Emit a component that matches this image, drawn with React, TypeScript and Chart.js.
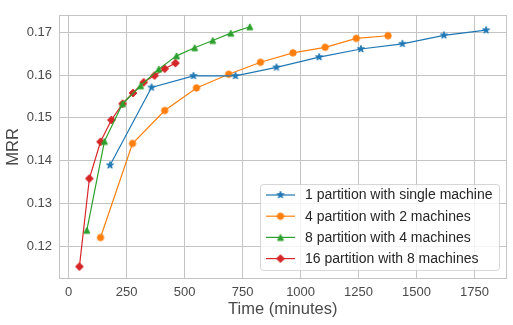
import React, { useEffect, useRef } from 'react';
import { Chart, registerables } from 'chart.js';

Chart.register(...registerables);

const FONT = "'Liberation Sans', Arial, Helvetica, sans-serif";

const seriesLabels = [
  '1 partition with single machine',
  '4 partition with 2 machines',
  '8 partition with 4 machines',
  '16 partition with 8 machines',
];
const seriesColors = ['#1f77b4', '#ff7f0e', '#2ca02c', '#d62728'];
const seriesMarkers = ['star', 'circle', 'triangle', 'diamond'];

const blueX = [178, 357, 538, 719, 896, 1080, 1260, 1439, 1618, 1800];
const blueY = [0.1389, 0.1571, 0.1598, 0.1598, 0.1618, 0.1642, 0.1661, 0.1673, 0.1693, 0.1705];

const orangeX = [137, 275, 414, 551, 690, 827, 967, 1106, 1240, 1377];
const orangeY = [0.122, 0.144, 0.1517, 0.157, 0.1602, 0.163, 0.1652, 0.1665, 0.1686, 0.1692];

const greenX = [78, 154, 232, 310, 388, 465, 543, 621, 699, 781];
const greenY = [0.1237, 0.1445, 0.1533, 0.1575, 0.1614, 0.1645, 0.1664, 0.1681, 0.1698, 0.1713];

const redX = [46, 89, 137, 184, 232, 277, 323, 370, 414, 460];
const redY = [0.1152, 0.1358, 0.1444, 0.1495, 0.1533, 0.1558, 0.1583, 0.1599, 0.1615, 0.1628];

const xTicks = [0, 250, 500, 750, 1000, 1250, 1500, 1750];
const yTicks = [0.12, 0.13, 0.14, 0.15, 0.16, 0.17];

const TEXT = '#4a4a4a';
const GRID = '#c4c4c4';

function makeMarker(kind: string, color: string): HTMLCanvasElement {
  const c = document.createElement('canvas');
  c.width = 12;
  c.height = 12;
  const ctx = c.getContext('2d')!;
  const cx = 6;
  const cy = 6;
  ctx.fillStyle = color;
  ctx.strokeStyle = color;
  ctx.lineWidth = 1;
  ctx.beginPath();
  if (kind === 'circle') {
    ctx.arc(cx, cy, 3.2, 0, Math.PI * 2);
  } else if (kind === 'triangle') {
    ctx.moveTo(cx, cy - 3);
    ctx.lineTo(cx + 3, cy + 3);
    ctx.lineTo(cx - 3, cy + 3);
  } else if (kind === 'diamond') {
    const r = 3.9;
    ctx.moveTo(cx, cy - r);
    ctx.lineTo(cx + r, cy);
    ctx.lineTo(cx, cy + r);
    ctx.lineTo(cx - r, cy);
  } else {
    const R = 3.7;
    const r = R * 0.381966;
    for (let i = 0; i < 10; i++) {
      const rad = i % 2 === 0 ? R : r;
      const a = -Math.PI / 2 + (i * Math.PI) / 5;
      const px = cx + rad * Math.cos(a);
      const py = cy + rad * Math.sin(a);
      if (i === 0) ctx.moveTo(px, py);
      else ctx.lineTo(px, py);
    }
  }
  ctx.closePath();
  ctx.fill();
  ctx.stroke();
  return c;
}

export default function App() {
  const ref = useRef<HTMLCanvasElement | null>(null);

  useEffect(() => {
    document.body.style.margin = '0';
    const canvas = ref.current;
    if (!canvas) return;

    const markers = seriesColors.map((col, i) => makeMarker(seriesMarkers[i], col));
    const xs = [blueX, orangeX, greenX, redX];
    const ys = [blueY, orangeY, greenY, redY];

    const datasets = seriesLabels.map((label, i) => ({
      label,
      data: xs[i].map((x, j) => ({ x, y: ys[i][j] })),
      borderColor: seriesColors[i],
      backgroundColor: seriesColors[i],
      borderWidth: 1.2,
      pointStyle: markers[i] as any,
      pointRadius: 4,
      pointHoverRadius: 4,
      showLine: true,
      tension: 0,
    }));

    const framePlugin = {
      id: 'frame',
      beforeDatasetsDraw(chart: any) {
        const { ctx, chartArea: a } = chart;
        ctx.save();
        ctx.strokeStyle = GRID;
        ctx.lineWidth = 1;
        ctx.strokeRect(Math.round(a.left) + 0.5, Math.round(a.top) + 0.5, Math.round(a.right - a.left) - 1, Math.round(a.bottom - a.top) - 1);
        ctx.restore();
      },
    };

    const legendPlugin = {
      id: 'customLegend',
      afterDatasetsDraw(chart: any) {
        const { ctx } = chart;
        ctx.save();
        const bx = 260.5;
        const by = 184.5;
        const bw = 239;
        const bh = 86;
        const rr = 3;
        ctx.beginPath();
        ctx.moveTo(bx + rr, by);
        ctx.lineTo(bx + bw - rr, by);
        ctx.arcTo(bx + bw, by, bx + bw, by + rr, rr);
        ctx.lineTo(bx + bw, by + bh - rr);
        ctx.arcTo(bx + bw, by + bh, bx + bw - rr, by + bh, rr);
        ctx.lineTo(bx + rr, by + bh);
        ctx.arcTo(bx, by + bh, bx, by + bh - rr, rr);
        ctx.lineTo(bx, by + rr);
        ctx.arcTo(bx, by, bx + rr, by, rr);
        ctx.closePath();
        ctx.fillStyle = 'rgba(255,255,255,0.8)';
        ctx.fill();
        ctx.strokeStyle = 'rgba(204,204,204,0.8)';
        ctx.lineWidth = 1;
        ctx.stroke();

        ctx.font = `14px ${FONT}`;
        ctx.textBaseline = 'middle';
        ctx.textAlign = 'left';
        seriesLabels.forEach((label, i) => {
          const y = 195 + i * 21.2;
          ctx.strokeStyle = seriesColors[i];
          ctx.lineWidth = 1.2;
          ctx.beginPath();
          ctx.moveTo(266, y);
          ctx.lineTo(295, y);
          ctx.stroke();
          const m = markers[i];
          ctx.drawImage(m, 280.5 - m.width / 2, y - m.height / 2);
          ctx.fillStyle = '#262626';
          ctx.fillText(label, 305, y + 0.5);
        });
        ctx.restore();
      },
    };

    const chart = new Chart(canvas, {
      type: 'scatter',
      data: { datasets: datasets as any },
      plugins: [framePlugin, legendPlugin],
      options: {
        animation: false,
        responsive: false,
        maintainAspectRatio: false,
        devicePixelRatio: 1,
        layout: { padding: { left: 0, right: 6.5, top: 7, bottom: 0 } },
        plugins: {
          legend: { display: false },
          tooltip: { enabled: false },
        },
        scales: {
          x: {
            type: 'linear',
            min: -42,
            max: 1888,
            afterBuildTicks: (s: any) => {
              s.ticks = xTicks.map((v) => ({ value: v }));
            },
            afterFit: (s: any) => {
              s.height = 46;
            },
            grid: { color: GRID, lineWidth: 1, drawTicks: false },
            border: { display: false },
            ticks: {
              padding: 6,
              color: TEXT,
              font: { family: FONT, size: 13 },
              callback: (v: any) => String(v),
              maxRotation: 0,
            },
            title: {
              display: true,
              text: 'Time (minutes)',
              color: TEXT,
              font: { family: FONT, size: 16.5 },
              padding: { top: 0, bottom: 6 },
            },
          },
          y: {
            type: 'linear',
            min: 0.1123,
            max: 0.1741,
            afterBuildTicks: (s: any) => {
              s.ticks = yTicks.map((v) => ({ value: v }));
            },
            afterFit: (s: any) => {
              s.width = 59;
            },
            grid: { color: GRID, lineWidth: 1, drawTicks: false },
            border: { display: false },
            ticks: {
              padding: 7,
              color: TEXT,
              font: { family: FONT, size: 13 },
              callback: (v: any) => Number(v).toFixed(2),
            },
            title: {
              display: true,
              text: 'MRR',
              color: TEXT,
              font: { family: FONT, size: 16.5 },
              padding: { top: 4, bottom: 0 },
            },
          },
        },
      },
    });

    return () => chart.destroy();
  }, []);

  return (
    <div style={{ width: 513, height: 325 }}>
      <canvas ref={ref} width={513} height={325} style={{ display: 'block' }} />
    </div>
  );
}
